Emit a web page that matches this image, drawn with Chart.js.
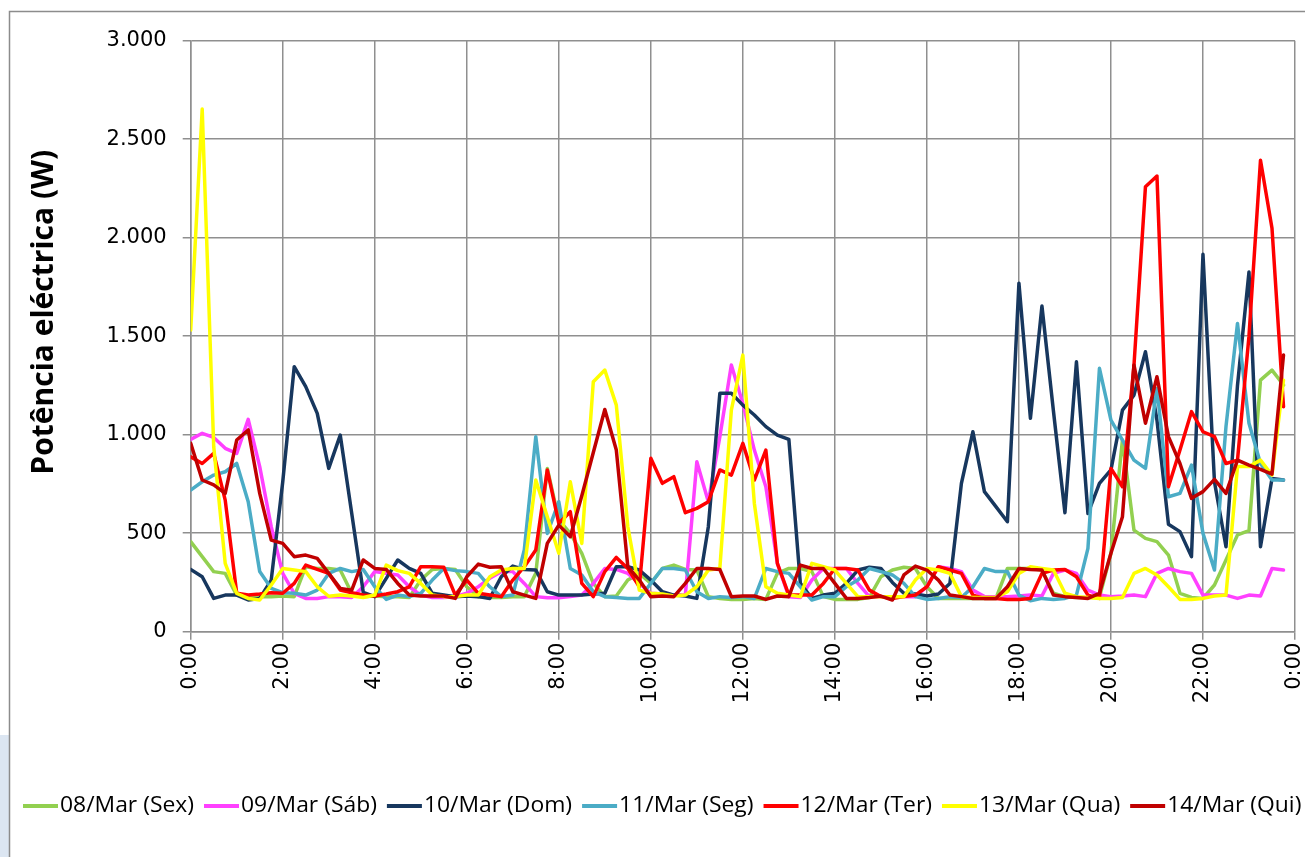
<!DOCTYPE html>
<html>
<head>
<meta charset="utf-8">
<title>Potência eléctrica diária</title>
<script src="https://cdn.jsdelivr.net/npm/chart.js@4"></script>
<style>
  html, body { margin: 0; padding: 0; background: #fff; overflow: hidden; }
  #wrap { position: relative; width: 1305px; height: 857px; }
</style>
</head>
<body>
<div id="wrap"><canvas id="c" width="1305" height="857"></canvas></div>
<script>
// Quarter-hour readings (W), slot 0 = 0:00 ... slot 95 = 23:45
const tickLabels = ['0:00', '2:00', '4:00', '6:00', '8:00', '10:00', '12:00',
                    '14:00', '16:00', '18:00', '20:00', '22:00', '0:00'];

const seriesNames = ['08/Mar (Sex)', '09/Mar (Sáb)', '10/Mar (Dom)', '11/Mar (Seg)',
                     '12/Mar (Ter)', '13/Mar (Qua)', '14/Mar (Qui)'];

const seriesColors = ['#92D050', '#FF40FF', '#17375E', '#4BACC6', '#FF0000', '#FFFF00', '#C00000'];

const sex08 = [457, 381, 305, 296, 186, 178, 178, 178, 181, 178, 330, 321,
               321, 313, 195, 178, 181, 178, 178, 174, 262, 316, 321, 316,
               228, 178, 174, 174, 178, 178, 296, 829, 567, 499, 398, 245,
               178, 181, 262, 296, 245, 321, 338, 316, 313, 178, 169, 164,
               164, 169, 164, 296, 321, 321, 305, 178, 164, 164, 164, 174,
               279, 313, 327, 321, 228, 169, 169, 169, 169, 169, 169, 321,
               321, 321, 313, 195, 178, 174, 174, 174, 398, 973, 516, 474,
               457, 389, 195, 174, 169, 237, 364, 491, 513, 1277, 1328, 1252];

const sab09 = [976, 1007, 986, 931, 905, 1078, 838, 533, 296, 195, 169, 169,
               178, 178, 174, 228, 305, 296, 288, 228, 186, 174, 174, 178,
               195, 228, 271, 305, 305, 245, 178, 172, 172, 178, 186, 245,
               321, 316, 296, 245, 195, 191, 186, 186, 863, 660, 990, 1354,
               1159, 922, 736, 347, 178, 174, 262, 321, 321, 321, 245, 178,
               178, 178, 178, 178, 228, 330, 321, 305, 211, 178, 178, 178,
               181, 186, 181, 296, 313, 296, 211, 186, 178, 181, 186, 178,
               296, 321, 305, 296, 186, 186, 186, 169, 186, 181, 321, 313];

const dom10 = [316, 279, 169, 186, 186, 161, 169, 262, 760, 1345, 1244, 1108,
               829, 998, 600, 200, 178, 271, 364, 321, 296, 195, 186, 178,
               181, 178, 169, 279, 333, 316, 313, 203, 186, 186, 186, 191,
               195, 330, 330, 313, 262, 203, 186, 181, 169, 533, 1210, 1210,
               1150, 1100, 1041, 998, 976, 245, 169, 186, 195, 245, 313, 327,
               321, 250, 195, 191, 181, 191, 245, 753, 1015, 711, 635, 558,
               1769, 1083, 1653, 1120, 604, 1370, 600, 753, 821, 1125, 1201, 1421,
               1074, 545, 508, 381, 1916, 760, 431, 1250, 1826, 431, 778, 770];

const seg11 = [719, 761, 795, 812, 854, 660, 305, 220, 198, 195, 186, 211,
               296, 321, 305, 316, 228, 164, 186, 178, 195, 262, 321, 310,
               305, 296, 228, 178, 186, 415, 990, 499, 660, 321, 288, 203,
               178, 174, 169, 169, 245, 321, 321, 313, 203, 169, 178, 174,
               178, 169, 321, 305, 296, 228, 161, 178, 178, 228, 262, 321,
               305, 288, 245, 178, 164, 169, 178, 174, 228, 321, 305, 305,
               186, 157, 169, 164, 169, 186, 423, 1337, 1074, 973, 871, 829,
               1235, 685, 702, 846, 499, 313, 1041, 1565, 1058, 854, 770, 770];

const ter12 = [888, 854, 905, 668, 195, 186, 191, 198, 195, 245, 338, 316,
               296, 211, 198, 186, 181, 191, 203, 228, 330, 330, 327, 186,
               262, 195, 186, 178, 262, 330, 415, 821, 550, 609, 245, 178,
               305, 377, 321, 228, 880, 753, 787, 604, 626, 660, 821, 795,
               956, 770, 922, 347, 186, 186, 186, 245, 321, 321, 313, 211,
               178, 169, 178, 186, 228, 330, 313, 296, 186, 169, 169, 164,
               164, 169, 296, 313, 316, 279, 186, 169, 829, 736, 1350, 2259,
               2313, 736, 922, 1117, 1015, 990, 854, 871, 1500, 2393, 2048, 1142];

const qua13 = [1531, 2653, 940, 347, 195, 169, 161, 237, 321, 313, 305, 228,
               180, 186, 181, 174, 186, 338, 310, 296, 245, 186, 178, 178,
               186, 186, 279, 313, 321, 321, 770, 584, 398, 761, 448, 1269,
               1328, 1150, 533, 211, 195, 191, 181, 186, 228, 313, 321, 1125,
               1404, 651, 228, 195, 186, 178, 347, 330, 313, 245, 178, 178,
               178, 178, 178, 262, 321, 313, 296, 178, 174, 174, 174, 203,
               296, 330, 321, 313, 195, 178, 174, 169, 169, 174, 296, 321,
               288, 228, 164, 164, 169, 181, 186, 838, 838, 871, 795, 1277];

const qui14 = [956, 770, 745, 702, 973, 1024, 702, 465, 448, 381, 389, 372,
               296, 220, 211, 364, 321, 316, 245, 186, 181, 181, 181, 169,
               279, 343, 327, 330, 203, 186, 169, 448, 541, 482, 690, 910,
               1128, 922, 330, 262, 178, 181, 178, 245, 321, 321, 316, 178,
               181, 181, 164, 181, 178, 338, 321, 321, 245, 169, 169, 174,
               181, 161, 288, 333, 313, 262, 186, 178, 169, 169, 169, 228,
               321, 316, 313, 186, 178, 174, 169, 195, 398, 584, 1354, 1058,
               1294, 990, 854, 677, 711, 773, 702, 871, 846, 824, 800, 1404];

const seriesValues = [sex08, sab09, dom10, seg11, ter12, qua13, qui14];

const TICK_FONT = { family: '"DejaVu Sans", Verdana, sans-serif', size: 21 };
const GRID = '#8f8f8f';

// Page frame: white sheet, grey outline and the pale panel edge at bottom left
const framePlugin = {
  id: 'frame',
  beforeDraw(chart) {
    const c = chart.ctx;
    c.save();
    c.fillStyle = '#ffffff';
    c.fillRect(0, 0, chart.width, chart.height);
    c.fillStyle = '#dce6f2';
    c.fillRect(0, 735, 9, chart.height - 735);
    c.strokeStyle = '#8c8c8c';
    c.lineWidth = 1.5;
    c.beginPath();
    c.moveTo(9.5, chart.height);
    c.lineTo(9.5, 11.5);
    c.lineTo(chart.width, 11.5);
    c.stroke();
    c.restore();
  }
};

// Vertical axis caption
const yCaptionPlugin = {
  id: 'yCaption',
  afterDraw(chart) {
    const c = chart.ctx;
    const a = chart.chartArea;
    c.save();
    c.translate(44, (a.top + a.bottom) / 2 - 24);
    c.rotate(-Math.PI / 2);
    c.font = 'bold 30px "Open Sans", sans-serif';
    c.fillStyle = '#000';
    c.textAlign = 'center';
    c.textBaseline = 'middle';
    c.fillText('Potência eléctrica (W)', 0, 0);
    c.restore();
  }
};

// Single-row legend along the bottom (runs past the right edge)
const legendRowPlugin = {
  id: 'legendRow',
  afterDraw(chart) {
    const c = chart.ctx;
    const y = 806;
    const stretch = 1.04;
    let x = 23;
    c.save();
    c.font = '22px "Open Sans", sans-serif';
    c.textBaseline = 'middle';
    c.textAlign = 'left';
    chart.data.datasets.forEach(ds => {
      c.strokeStyle = ds.borderColor;
      c.lineWidth = 4;
      c.lineCap = 'butt';
      c.beginPath();
      c.moveTo(x, y);
      c.lineTo(x + 35, y);
      c.stroke();
      x += 37;
      c.save();
      c.translate(x, y);
      c.scale(stretch, 1);
      c.fillStyle = '#000';
      c.fillText(ds.label, 0, 0);
      c.restore();
      x += c.measureText(ds.label).width * stretch + 10;
    });
    c.restore();
  }
};

const datasets = seriesValues.map((vals, k) => ({
  label: seriesNames[k],
  data: vals.map((v, i) => ({ x: i, y: v })),
  borderColor: seriesColors[k],
  backgroundColor: seriesColors[k],
  borderWidth: 3.5,
  pointRadius: 0,
  tension: 0,
  fill: false,
  borderJoinStyle: 'round',
  borderCapStyle: 'round',
  order: seriesValues.length - k
}));

new Chart(document.getElementById('c'), {
  type: 'line',
  data: { datasets },
  options: {
    responsive: false,
    animation: false,
    events: [],
    layout: { padding: { left: 10, top: 40.7, right: 10, bottom: 0 } },
    plugins: {
      legend: { display: false },
      tooltip: { enabled: false },
      title: { display: false }
    },
    scales: {
      x: {
        type: 'linear',
        min: 0,
        max: 96,
        border: { color: GRID, width: 1.5 },
        grid: { color: GRID, lineWidth: 1.5, tickLength: 8, drawTicks: true },
        ticks: {
          stepSize: 8,
          autoSkip: false,
          maxRotation: 90,
          minRotation: 90,
          padding: 3,
          color: '#000',
          font: TICK_FONT,
          callback: v => tickLabels[Math.round(v / 8)]
        },
        afterFit(scale) {
          scale.height = 857 - 631.7;
          scale.paddingLeft = 0;
          scale.paddingRight = 0;
        }
      },
      y: {
        min: 0,
        max: 3000,
        border: { color: GRID, width: 1.5 },
        grid: { color: GRID, lineWidth: 1.5, tickLength: 8, drawTicks: true },
        ticks: {
          stepSize: 500,
          padding: 16,
          color: '#000',
          font: TICK_FONT,
          callback: v => v.toLocaleString('de-DE')
        },
        afterFit(scale) { scale.width = 190.7 - 10; }
      }
    }
  },
  plugins: [framePlugin, yCaptionPlugin, legendRowPlugin]
});
</script>
</body>
</html>
